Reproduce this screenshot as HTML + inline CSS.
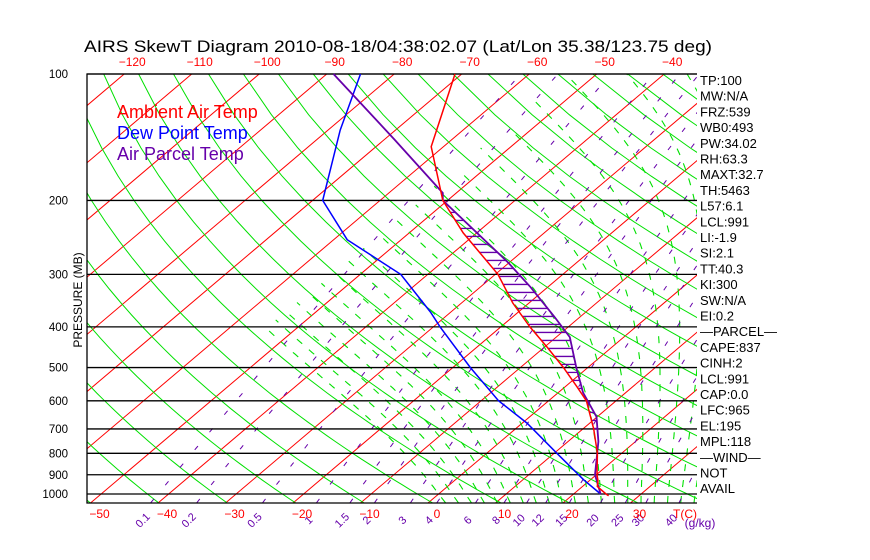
<!DOCTYPE html>
<html><head><meta charset="utf-8">
<style>
html,body{margin:0;padding:0;background:#fff;}
svg{display:block;font-family:"Liberation Sans",sans-serif;}
</style></head>
<body>
<svg id="chart" width="870" height="560" viewBox="0 0 870 560" xmlns="http://www.w3.org/2000/svg">
<defs><clipPath id="plotclip"><rect x="87" y="74" width="610" height="429"/></clipPath></defs>
<text x="84" y="52" font-size="16.5" fill="#000" textLength="628" lengthAdjust="spacingAndGlyphs">AIRS SkewT Diagram 2010-08-18/04:38:02.07 (Lat/Lon 35.38/123.75 deg)</text>
<g id="bg" clip-path="url(#plotclip)"></g>
<g id="fg"></g>
<text transform="translate(82,300) rotate(-90)" text-anchor="middle" font-size="12" fill="#000">PRESSURE (MB)</text>
<text x="117" y="118" font-size="18" fill="#ff0000">Ambient Air Temp</text>
<text x="117" y="139" font-size="18" fill="#0000ff">Dew Point Temp</text>
<text x="117" y="160" font-size="18" fill="#6600aa">Air Parcel Temp</text>
</svg>
<script>
const pLevels=[100,200,300,400,500,600,700,800,900,1000];
const bottomTicks=[-50,-40,-30,-20,-10,0,10,20,30];
const topTicks=[-120,-110,-100,-90,-80,-70,-60,-50,-40];
const mixRatios=[0.1,0.2,0.5,1,1.5,2,3,4,6,8,10,12,15,20,25,30,40];
const tempP=[100,149,200,239,300,351,400,447,500,556,600,700,800,900,930,960,1000,1010];
const tempT=[-71,-61.8,-50.7,-42,-29.6,-22.4,-15.7,-9.6,-3.6,1.8,5.6,11.6,16.4,20.1,21.3,22.2,24.8,25.5];
const dewP=[100,136,200,248,300,369,400,500,600,678,800,925,1000];
const dewT=[-85,-78.2,-68.5,-58,-44,-33,-29,-17.4,-7.4,0.7,10.4,19,24];
const parP=[100,143,192,200,280,322,378,423,500,574,655,750,900,1000];
const parT=[-89,-68.6,-52,-50.7,-30.4,-22.5,-13.9,-8,-1.7,3.7,9.9,14.5,19.8,24];
const sideLabels=["TP:100","MW:N/A","FRZ:539","WB0:493","PW:34.02","RH:63.3","MAXT:32.7","TH:5463","L57:6.1","LCL:991","LI:-1.9","SI:2.1","TT:40.3","KI:300","SW:N/A","EI:0.2","\u2014PARCEL\u2014","CAPE:837","CINH:2","LCL:991","CAP:0.0","LFC:965","EL:195","MPL:118","\u2014WIND\u2014","NOT","AVAIL"];

const NS="http://www.w3.org/2000/svg";
const X0=87,X1=697,Y0=74,Y1=503;
function yOf(p){return 74+182.4*Math.log(p/100);}
function xOf(T,y){return 428+6.75*T+1.18*(503-y);}
function mk(tag,attrs,parent){const e=document.createElementNS(NS,tag);for(const k in attrs)e.setAttribute(k,attrs[k]);parent.appendChild(e);return e;}
const bg=document.getElementById('bg'),fg=document.getElementById('fg');
function polyPts(ps,ts){return ps.map((p,i)=>{const y=yOf(p);return xOf(ts[i],y).toFixed(1)+','+y.toFixed(1);}).join(' ');}

for(let T=-160;T<=60;T+=10){
  const l=mk('line',{x1:xOf(T,Y1),y1:Y1,x2:xOf(T,Y0),y2:Y0,stroke:'#ff0000','stroke-width':1},bg);
  
  
}
for(let th=200;th<=500;th+=10){
  const ps=[],ts=[];
  for(let p=1050;p>=100;p-=25){ps.push(p);ts.push(th*Math.pow(p/1000,0.286)-273.15);}
  const l=mk('polyline',{points:polyPts(ps,ts),fill:'none',stroke:'#00e000','stroke-width':1},bg);
  
  
}
function es(T){return 6.112*Math.exp(17.67*T/(T+243.5));}
function grad(T,p){const e=es(T-273.15);const rs=0.622*e/Math.max(p-e,1);const Rd=287,cp=1005,L=2.5e6;
  return (Rd*T+L*rs)/(p*(cp+L*L*rs*0.622/(Rd*T*T)));}
for(let tw=0;tw<=44;tw+=2){
  let T=tw+273.15,p=1000;const ps=[],ts=[];
  ps.push(1050);ts.push(T+grad(T,1000)*50-273.15);
  while(p>=100&&T-273.15>-55){ps.push(p);ts.push(T-273.15);T-=grad(T,p)*5;p-=5;}
  const l=mk('polyline',{points:polyPts(ps,ts),fill:'none',stroke:'#00e000','stroke-width':1.1,'stroke-dasharray':'7,9'},bg);
  
  
}
function tdOf(w,p){const e=w*p/(622+w);const a=Math.log(e/6.112);return 243.5*a/(17.67-a);}
mixRatios.forEach(w=>{
  const ps=[],ts=[];
  for(let p=1050;p>=100;p-=25){ps.push(p);ts.push(tdOf(w,p));}
  const l=mk('polyline',{points:polyPts(ps,ts),fill:'none',stroke:'#6600aa','stroke-width':1,'stroke-dasharray':'5,18'},bg);
  
  
  const x=xOf(tdOf(w,1050),Y1)-8;
  const t=mk('text',{x:x,y:524,'font-size':11,fill:'#6600aa','text-anchor':'middle',transform:`rotate(-45 ${x} 520)`},fg);
  t.textContent=String(w);
  
  
});
pLevels.forEach(p=>{
  const y=yOf(p);
  const l=mk('line',{x1:X0,y1:y,x2:X1,y2:y,stroke:'#000','stroke-width':1.3},fg);
  
  
  const t=mk('text',{x:68,y:y+4,'font-size':11.5,fill:'#000','text-anchor':'end'},fg);
  t.textContent=String(p);
  
  
});
const fr=mk('polyline',{points:`${X1},${Y0} ${X0},${Y0} ${X0},${Y1} ${X1},${Y1}`,fill:'none',stroke:'#000','stroke-width':1.3},fg);


bottomTicks.forEach(T=>{
  const t=mk('text',{x:xOf(T,Y1)+9,y:518,'font-size':12,fill:'#ff0000','text-anchor':'middle'},fg);
  t.textContent=T<0?'\u2212'+(-T):String(T);
  
  
});
const tc=mk('text',{x:685,y:518,'font-size':12,fill:'#ff0000','text-anchor':'middle'},fg);tc.textContent='T(C)';


const gk=mk('text',{x:700,y:527,'font-size':12,fill:'#6600aa','text-anchor':'middle'},fg);gk.textContent='(g/kg)';


topTicks.forEach(T=>{
  const t=mk('text',{x:xOf(T,Y0)+8,y:66,'font-size':12,fill:'#ff0000','text-anchor':'middle'},fg);
  t.textContent='\u2212'+(-T);
  
  
});
function interp(ps,ts,p){for(let i=0;i<ps.length-1;i++){if(p>=ps[i]&&p<=ps[i+1]){const f=Math.log(p/ps[i])/Math.log(ps[i+1]/ps[i]);return ts[i]+f*(ts[i+1]-ts[i]);}}return null;}
for(let y=yOf(200)+4;y<yOf(720);y+=8){
  const p=100*Math.exp((y-74)/182.4);
  const a=interp(tempP,tempT,p),b=interp(parP,parT,p);
  if(a==null||b==null||b<=a)continue;
  const l=mk('line',{x1:xOf(a,y),y1:y,x2:xOf(b,y),y2:y,stroke:'#6600aa','stroke-width':1.3},fg);
  
  
}
const dl=mk('polyline',{points:polyPts(dewP,dewT),fill:'none',stroke:'#0000ff','stroke-width':1.5},fg);


const pl=mk('polyline',{points:polyPts(parP,parT),fill:'none',stroke:'#6600aa','stroke-width':1.8},fg);


const tl=mk('polyline',{points:polyPts(tempP,tempT),fill:'none',stroke:'#ff0000','stroke-width':1.5},fg);


sideLabels.forEach((s,i)=>{
  const t=mk('text',{x:700,y:85+i*15.7,'font-size':13,fill:'#000'},fg);
  t.textContent=s;
  
  
});
</script>
</body></html>
